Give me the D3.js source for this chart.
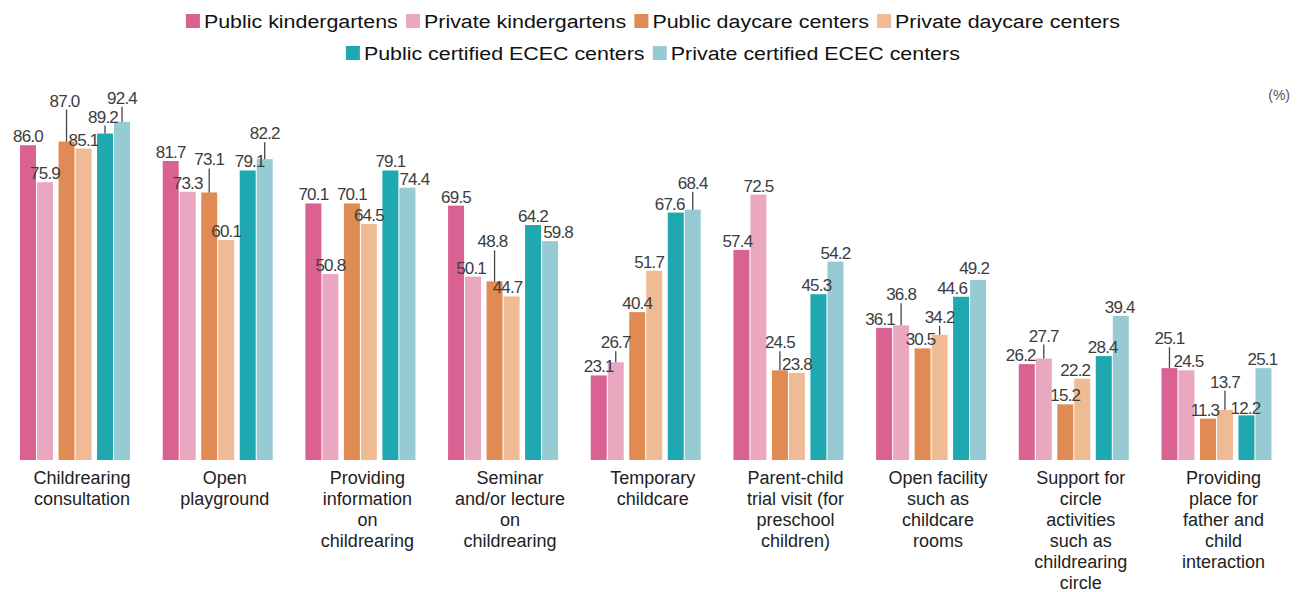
<!DOCTYPE html>
<html>
<head>
<meta charset="utf-8">
<script src="https://cdn.jsdelivr.net/npm/d3@7"></script>
<style>
  body { margin: 0; background: #fff; }
  svg { display: block; font-family: "Liberation Sans", Arial, sans-serif; }
</style>
</head>
<body>
<svg width="1302" height="592"></svg>
<script>
// Categories (line breaks as in the original)
const categories = [
  ["Childrearing", "consultation"],
  ["Open", "playground"],
  ["Providing", "information", "on", "childrearing"],
  ["Seminar", "and/or lecture", "on", "childrearing"],
  ["Temporary", "childcare"],
  ["Parent-child", "trial visit (for", "preschool", "children)"],
  ["Open facility", "such as", "childcare", "rooms"],
  ["Support for", "circle", "activities", "such as", "childrearing", "circle"],
  ["Providing", "place for", "father and", "child", "interaction"]
];

const seriesNames = [
  "Public kindergartens", "Private kindergartens",
  "Public daycare centers", "Private daycare centers",
  "Public certified ECEC centers", "Private certified ECEC centers"
];

// Values (%)
const publicKindergartens = [86.0, 81.7, 70.1, 69.5, 23.1, 57.4, 36.1, 26.2, 25.1];
const privateKindergartens = [75.9, 73.3, 50.8, 50.1, 26.7, 72.5, 36.8, 27.7, 24.5];
const publicDaycare = [87.0, 73.1, 70.1, 48.8, 40.4, 24.5, 30.5, 15.2, 11.3];
const privateDaycare = [85.1, 60.1, 64.5, 44.7, 51.7, 23.8, 34.2, 22.2, 13.7];
const publicEcec = [89.2, 79.1, 79.1, 64.2, 67.6, 45.3, 44.6, 28.4, 12.2];
const privateEcec = [92.4, 82.2, 74.4, 59.8, 68.4, 54.2, 49.2, 39.4, 25.1];

const seriesValues = [publicKindergartens, privateKindergartens, publicDaycare,
  privateDaycare, publicEcec, privateEcec];

const colors = ["#d96292", "#e9a7c0", "#df8b53", "#eebb95", "#20a8b1", "#97cbd4"];

// Label nudges [dx, lift] per series and category (lift > 6 gets a leader line)
const labelNudges = [
  [[0, 0], [0, 0], [0, 0], [0, 0], [0, 0], [-4, 0], [-4, 0], [-6, 0], [0, 21]],
  [[0, 0], [0, 0], [0, 0], [-2, 0], [0, 11], [0, 0], [0, 22], [0, 14], [2, 0]],
  [[-2, 32], [0, 24], [0, 0], [-2, 31], [0, 0], [0, 19], [-2, 0], [0, 0], [-3, 0]],
  [[0, 0], [0, 0], [0, 0], [-4, 0], [-5, 0], [0, 0], [0, 9], [-7, 0], [0, 19]],
  [[-2, 8], [2, 0], [0, 0], [0, 0], [-6, 0], [-2, 0], [-9, 0], [-1, 0], [-1, -2]],
  [[0, 15], [0, 17], [7, 0], [8, 0], [0, 18], [0, 0], [-4, 3], [-1, 0], [-1, 0]]
];

// Scales
const svg = d3.select("svg");
const x0 = d3.scaleBand()
  .domain(d3.range(categories.length))
  .range([3.7, 1287.8]);
const clusterWidth = 110;
const xPair = d3.scaleBand().domain([0, 1, 2]).range([0, clusterWidth]).paddingInner(0.143);
const xBar = d3.scaleBand().domain([0, 1]).range([0, xPair.bandwidth()]).paddingInner(0.06);
const y = d3.scaleLinear().domain([0, 100]).range([460, 94]);

const barX = (s, c) => x0(c) + (x0.bandwidth() - clusterWidth) / 2 + xPair(Math.floor(s / 2)) + xBar(s % 2);

// Legend
const legendRows = [[0, 1, 2, 3], [4, 5]];
const legendBase = [28, 60];
const stretch = 1.19;
legendRows.forEach((row, r) => {
  const g = svg.append("g");
  let cx = 0;
  row.forEach(s => {
    g.append("rect")
      .attr("x", cx).attr("y", legendBase[r] - 14)
      .attr("width", 14).attr("height", 14)
      .attr("fill", colors[s]);
    const t = g.append("text")
      .attr("x", 0).attr("y", legendBase[r])
      .attr("font-size", 18)
      .attr("fill", "#111")
      .text(seriesNames[s]);
    const w = t.node().getComputedTextLength() * stretch;
    t.attr("transform", `translate(${cx + 18},0) scale(${stretch},1)`);
    cx += 18 + w + 8;
  });
  g.attr("transform", `translate(${653 - (cx - 8) / 2},0)`);
});

// Unit label
svg.append("text")
  .attr("x", 1290).attr("y", 100)
  .attr("text-anchor", "end")
  .attr("font-size", 14)
  .attr("fill", "#555")
  .text("(%)");

// Bars
seriesValues.forEach((vals, s) => {
  svg.append("g").selectAll("rect")
    .data(vals)
    .join("rect")
      .attr("x", (d, c) => barX(s, c))
      .attr("y", d => y(d))
      .attr("width", xBar.bandwidth())
      .attr("height", d => y(0) - y(d))
      .attr("fill", colors[s]);
});

// Value labels and leader lines
seriesValues.forEach((vals, s) => {
  vals.forEach((v, c) => {
    const [dx, lift] = labelNudges[s][c];
    const cx = barX(s, c) + xBar.bandwidth() / 2;
    const base = y(v) - 3 - lift;
    if (lift > 6) {
      svg.append("line")
        .attr("x1", cx).attr("x2", cx)
        .attr("y1", base + 3).attr("y2", y(v))
        .attr("stroke", "#444")
        .attr("stroke-width", 1.3);
    }
    svg.append("text")
      .attr("x", cx + dx).attr("y", base)
      .attr("text-anchor", "middle")
      .attr("font-size", 17)
      .attr("letter-spacing", -0.8)
      .attr("fill", "#3d3d3d")
      .text(v.toFixed(1));
  });
});

// Category labels
categories.forEach((lines, c) => {
  const t = svg.append("text")
    .attr("x", x0(c) + x0.bandwidth() / 2 + 7)
    .attr("y", 484)
    .attr("text-anchor", "middle")
    .attr("font-size", 18)
    .attr("fill", "#222");
  lines.forEach((ln, i) => {
    t.append("tspan")
      .attr("x", x0(c) + x0.bandwidth() / 2 + 7)
      .attr("dy", i === 0 ? 0 : 21)
      .text(ln);
  });
});
</script>
</body>
</html>
